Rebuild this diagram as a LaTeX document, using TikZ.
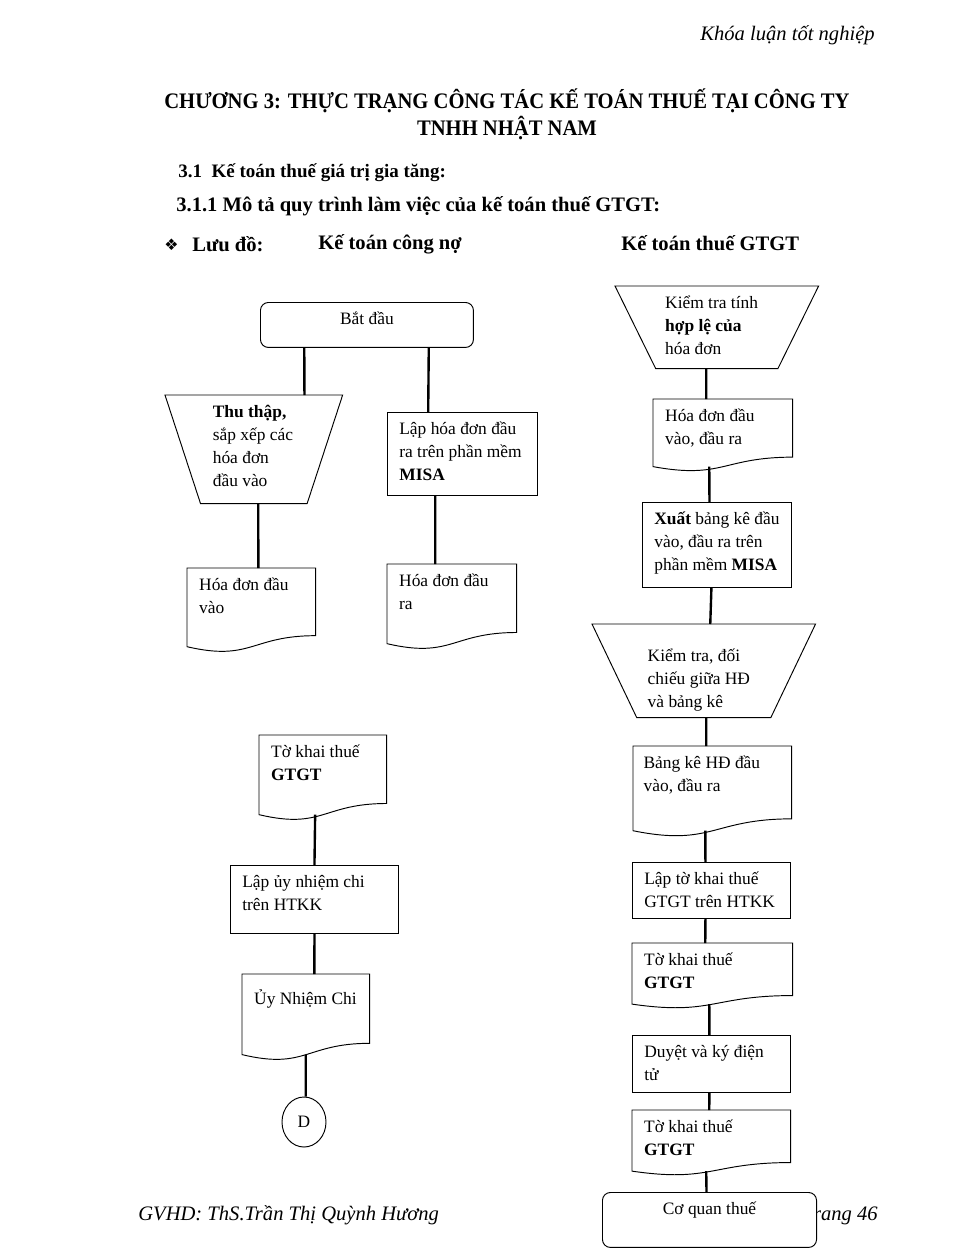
\documentclass[tikz,border=0pt]{standalone}
\usepackage{fontspec}
\setmainfont{Liberation Serif}
\newfontfamily\symfont{DejaVu Sans}
\newfontfamily\narrowfont{Liberation Serif}[FakeStretch=0.93]
\usepackage{tikz}
\usetikzlibrary{positioning,shapes.geometric,calc}

\begin{document}
\begin{tikzpicture}[x=0.6316pt, y=-0.6316pt,
    every node/.style = {font=\fontsize{11}{14.5}\selectfont},
       txt/.style = {inner sep=0pt},
     title/.style = {txt, anchor=base, font=\narrowfont\bfseries\fontsize{14}{16}\selectfont},
      head/.style = {txt, anchor=base west, font=\bfseries\fontsize{#1}{16}\selectfont},
      foot/.style = {txt, font=\itshape\fontsize{13}{15}\selectfont},
      lskip/.code = {\def\boxskip{\leftskip=#1\relax}},
    midskip/.code = {\def\boxskip{\leftskip=0pt plus 1fil\rightskip=0pt plus 1fil
                                  \parfillskip=0pt\relax}},
       box/.style 2 args = {anchor=north west, inner xsep=0pt, inner ysep=5pt,
                     text height=9pt, text depth=#2-19pt,
                     text width=#1, align=flush left, lskip=7.5pt,
                     execute at begin node={\boxskip}},
      proc/.style 2 args = {box={#1}{#2}, draw, line width=.6pt},
      term/.style 2 args = {box={#1}{#2}, draw, fill=white, rounded corners=5pt,
                     midskip, line width=.6pt},
       doc/.style 2 args = {box={#1}{#2},
                     append after command={\pgfextra{\let\docnode\tikzlastnode
        \draw[line width=.6pt] (\docnode.north west) -- (\docnode.north east)
            -- ($(\docnode.north east)!.86!(\docnode.south east)$)
            .. controls ($(\docnode.north)!.86!(\docnode.south)$)
                    and ($(\docnode.north)!1.19!(\docnode.south)$)
            .. (\docnode.south west) -- cycle;}}},
        io/.style 2 args = {box={#1}{#2}, lskip=30pt,
                     append after command={\pgfextra{\let\ionode\tikzlastnode
        \draw[line width=.6pt] (\ionode.north west) -- (\ionode.north east)
            -- ($(\ionode.south east)!.2!(\ionode.south west)$)
            -- ($(\ionode.south west)!.2!(\ionode.south east)$) -- cycle;}}},
      conn/.style = {line width=1.5pt},
                    ]
\useasboundingbox (0,0) rectangle (969,1254);
%% page texts
\node[foot, anchor=base east] (hdr) at (875,40) {Khóa luận tốt nghiệp};
\node[title] (t1) at (507,108) {CHƯƠNG 3: THỰC TRẠNG CÔNG TÁC KẾ TOÁN THUẾ TẠI CÔNG TY};
\node[title] (t2) at (507,135) {TNHH NHẬT NAM};
\node[head=12] (s31) at (178,177) {3.1\enspace Kế toán thuế giá trị gia tăng:};
\node[head=13] (s311) at (176,211) {3.1.1 Mô tả quy trình làm việc của kế toán thuế GTGT:};
\node[txt, anchor=base west, font=\symfont\fontsize{10}{12}\selectfont] (bul) at (164,250) {❖};
\node[head=13] (luu) at (192,251) {Lưu đồ:};
\node[head=13] (lane1) at (318,249) {Kế toán công nợ};
\node[head=13] (lane2) at (621,250) {Kế toán thuế GTGT};
\node[foot, anchor=base east] (pg) at (878,1220) {Trang 46};
\node[foot, anchor=base west] (gv) at (138,1220) {GVHD: ThS.Trần Thị Quỳnh Hương};
%% ke toan cong no
\node[term={134.5pt}{28.4pt}] (start) at (260,302) {Bắt đầu};
\node[io={111.8pt}{68.2pt}] (collect) at (165,395)
    {\textbf{Thu thập,}\\ sắp xếp các\\ hóa đơn\\ đầu vào};
\node[proc={94.7pt}{52.4pt}] (issue) at (387,412)
    {Lập hóa đơn đầu\\ ra trên phần mềm\\ \textbf{MISA}};
\node[doc={80.8pt}{49.3pt}] (invin) at (187,568) {Hóa đơn đầu\\ vào};
\node[doc={81.5pt}{49.9pt}] (invout) at (387,564) {Hóa đơn đầu\\ ra};
\node[doc={80.2pt}{49.9pt}] (decl1) at (259,735) {Tờ khai thuế\\ \textbf{GTGT}};
\node[proc={106.1pt}{42.9pt}] (payord) at (230,865) {Lập ủy nhiệm chi\\ trên HTKK};
\node[doc={80.2pt}{45.5pt}, text height=14pt] (payslip) at (242,974) {Ủy Nhiệm Chi};
\node[draw, ellipse, minimum width=27.8pt, minimum height=31.6pt, inner sep=0pt,
      line width=.6pt] (D) at (304,1122) {D};
%% ke toan thue GTGT
\node[io={128.2pt}{51.8pt}, lskip=31.5pt] (check) at (615,286)
    {Kiểm tra tính\\ \textbf{hợp lệ của}\\ hóa đơn};
\node[doc={87.8pt}{42.3pt}] (invall) at (653,399) {Hóa đơn đầu\\ vào, đầu ra};
\node[proc={94.1pt}{53.7pt}] (export) at (642,502)
    {\textbf{Xuất} bảng kê đầu\\ vào, đầu ra trên\\ phần mềm \textbf{MISA}};
\node[io={140.8pt}{49.3pt}, text height=18.4pt, lskip=35pt] (compare) at (592,624)
    {Kiểm tra, đối\\ chiếu giữa HĐ\\ và bảng kê};
\node[doc={99.8pt}{53.1pt}, lskip=6.5pt] (list) at (633,746)
    {Bảng kê HĐ đầu\\ vào, đầu ra};
\node[proc={99.8pt}{35.4pt}] (prep) at (632,862) {Lập tờ khai thuế\\ GTGT trên HTKK};
\node[doc={101.1pt}{38.2pt}] (decl2) at (632,943) {Tờ khai thuế\\ \textbf{GTGT}};
\node[proc={99.8pt}{36pt}] (sign) at (632,1035) {Duyệt và ký điện\\ tử};
\node[doc={99.8pt}{38.2pt}] (decl3) at (632,1110) {Tờ khai thuế\\ \textbf{GTGT}};
\node[term={135.2pt}{34.7pt}] (tax) at (602,1192) {Cơ quan thuế};
%% connectors (left)
\draw[conn] ($(start.south west)!.207!(start.south east)$) -- ($(collect.north west)!.785!(collect.north east)$)
            ($(start.south west)!.789!(start.south east)$) -- ($(issue.north west)!.273!(issue.north east)$)
            ($(collect.south west)!.525!(collect.south east)$) -- ($(invin.north west)!.555!(invin.north east)$)
            ($(issue.south west)!.32!(issue.south east)$) -- ($(invout.north west)!.372!(invout.north east)$)
            ($(decl1.south west)!.44!(decl1.south east)$) -- (payord.north)
            (payord.south) -- ($(payslip.north west)!.567!(payslip.north east)$)
            (payslip.south) -- (payslip.south |- D.north);
%% connectors (right)
\draw[conn] ($(check.south west)!.448!(check.south east)$) -- ($(invall.north west)!.381!(invall.north east)$)
            ($(invall.south west)!.403!(invall.south east)$) -- ($(export.north west)!.45!(export.north east)$)
            ($(export.south west)!.463!(export.south east)$) -- ($(compare.north west)!.529!(compare.north east)$)
            ($(compare.south west)!.511!(compare.south east)$) -- ($(list.north west)!.462!(list.north east)$)
            ($(list.south west)!.456!(list.south east)$) -- ($(prep.north west)!.462!(prep.north east)$)
            ($(prep.south west)!.462!(prep.south east)$) -- ($(decl2.north west)!.456!(decl2.north east)$)
            ($(decl2.south west)!.481!(decl2.south east)$) -- ($(sign.north west)!.487!(sign.north east)$)
            ($(sign.south west)!.487!(sign.south east)$) -- ($(decl3.north west)!.487!(decl3.north east)$)
            ($(decl3.south west)!.468!(decl3.south east)$) -- ($(tax.north west)!.486!(tax.north east)$);
\end{tikzpicture}
\end{document}
